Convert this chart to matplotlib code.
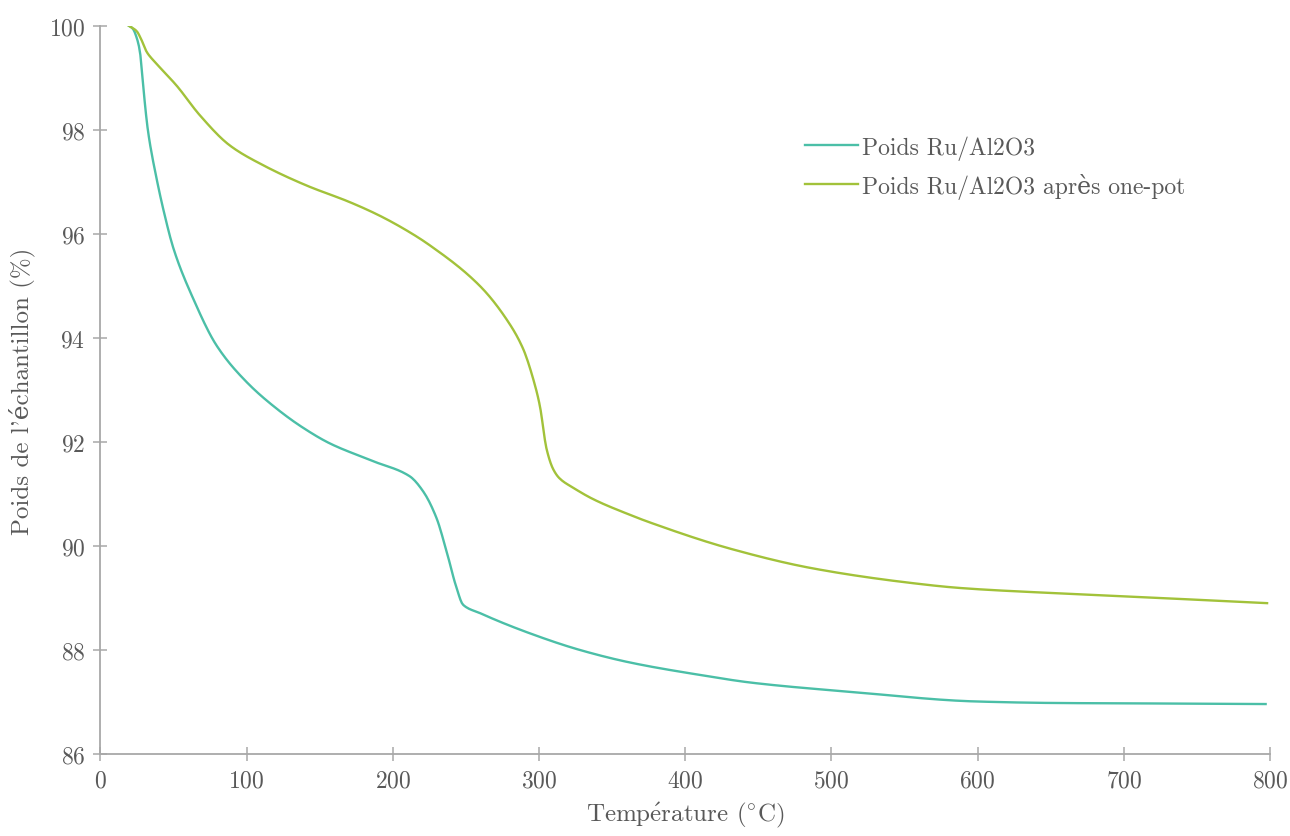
import matplotlib
matplotlib.use("Agg")
import matplotlib.pyplot as plt
import numpy as np

# TGA data (temperature in °C, weight in %)
temp_ref = [19.5, 22, 25, 27, 29, 32.4, 38.4, 44, 49.8, 63.5, 79.5, 100, 120.5, 138.7,
            157, 186.5, 211.5, 220.7, 229.8, 236.7, 243.5, 248, 259.5, 293.7, 327.9,
            362, 410, 445.6, 515, 598.5, 654, 730, 797]
poids_ref = [100, 99.95, 99.75, 99.5, 98.9, 98.0, 97.06, 96.35, 95.73, 94.75, 93.85,
             93.15, 92.64, 92.27, 91.97, 91.63, 91.34, 91.05, 90.54, 89.9, 89.2, 88.87,
             88.71, 88.32, 88.0, 87.76, 87.52, 87.37, 87.19, 87.01, 86.98, 86.97, 86.96]

temp_onepot = [19.5, 24.7, 28.2, 31.6, 38.4, 52.1, 68, 88.5, 111.3, 141, 170.6, 191,
               211.6, 225.3, 259.5, 277.7, 289.1, 296, 300.5, 305.1, 309.6, 314, 323.3,
               337, 362, 376, 431.7, 487, 551, 588.7, 654, 724, 798]
poids_onepot = [100, 99.9, 99.72, 99.5, 99.27, 98.85, 98.28, 97.7, 97.32, 96.93, 96.61,
                96.35, 96.03, 95.78, 95.0, 94.36, 93.79, 93.21, 92.7, 91.87, 91.48, 91.3,
                91.12, 90.9, 90.6, 90.45, 89.94, 89.57, 89.3, 89.19, 89.09, 89.0, 88.9]

labels = ["Poids Ru/Al2O3", "Poids Ru/Al2O3 après one-pot"]
colors = ["#4bbfa7", "#a2c23a"]

plt.rcParams['font.family'] = ['cmr10', 'DejaVu Serif']
plt.rcParams['mathtext.fontset'] = 'cm'
plt.rcParams['axes.formatter.use_mathtext'] = True
text_col = "#595959"
axis_col = "#a8a8a8"


def smooth(x, y, n=800):
    # monotone cubic resampling so the curves look continuous
    x = np.asarray(x, float)
    y = np.asarray(y, float)
    h = np.diff(x)
    d = np.diff(y) / h
    m = np.zeros_like(y)
    m[0], m[-1] = d[0], d[-1]
    for i in range(1, len(x) - 1):
        if d[i - 1] * d[i] > 0:
            w1 = 2 * h[i] + h[i - 1]
            w2 = h[i] + 2 * h[i - 1]
            m[i] = (w1 + w2) / (w1 / d[i - 1] + w2 / d[i])
    xs = np.linspace(x[0], x[-1], n)
    idx = np.clip(np.searchsorted(x, xs) - 1, 0, len(x) - 2)
    t = (xs - x[idx]) / h[idx]
    h00 = 2 * t**3 - 3 * t**2 + 1
    h10 = t**3 - 2 * t**2 + t
    h01 = -2 * t**3 + 3 * t**2
    h11 = t**3 - t**2
    ys = h00 * y[idx] + h10 * h[idx] * m[idx] + h01 * y[idx + 1] + h11 * h[idx] * m[idx + 1]
    return xs, ys


fig = plt.figure(figsize=(12.9, 8.37), dpi=100)
ax = fig.add_axes([0.0779, 0.098, 0.9066, 0.8699])

for (tx, py), lab, col in zip([(temp_ref, poids_ref), (temp_onepot, poids_onepot)], labels, colors):
    xs, ys = smooth(tx, py)
    ax.plot(xs, ys, color=col, linewidth=1.7, label=lab)

ax.set_xlim(0, 800)
ax.set_ylim(86, 100)
ax.set_xticks(np.arange(0, 801, 100))
ax.set_yticks(np.arange(86, 101, 2))

for side in ['top', 'right']:
    ax.spines[side].set_visible(False)
for side in ['left', 'bottom']:
    ax.spines[side].set_color(axis_col)
    ax.spines[side].set_linewidth(1.3)

ax.tick_params(direction='inout', length=10, width=1.1, color=axis_col,
               labelcolor=text_col, labelsize=17, pad=6)

ax.set_xlabel(r"Temp$\mathrm{\acute{e}}$rature ($^{\circ}$C)", fontsize=18, color=text_col, labelpad=6)
ax.set_ylabel("Poids de l'échantillon (%)", fontsize=18, color=text_col, labelpad=10)

leg = ax.legend(loc='upper left', bbox_to_anchor=(0.602, 0.85), frameon=False,
                fontsize=17, handlelength=2.25, handletextpad=0.17, labelspacing=0.55,
                borderpad=0, borderaxespad=0)
for t in leg.get_texts():
    t.set_color(text_col)

fig.savefig("out.png", dpi=100)
